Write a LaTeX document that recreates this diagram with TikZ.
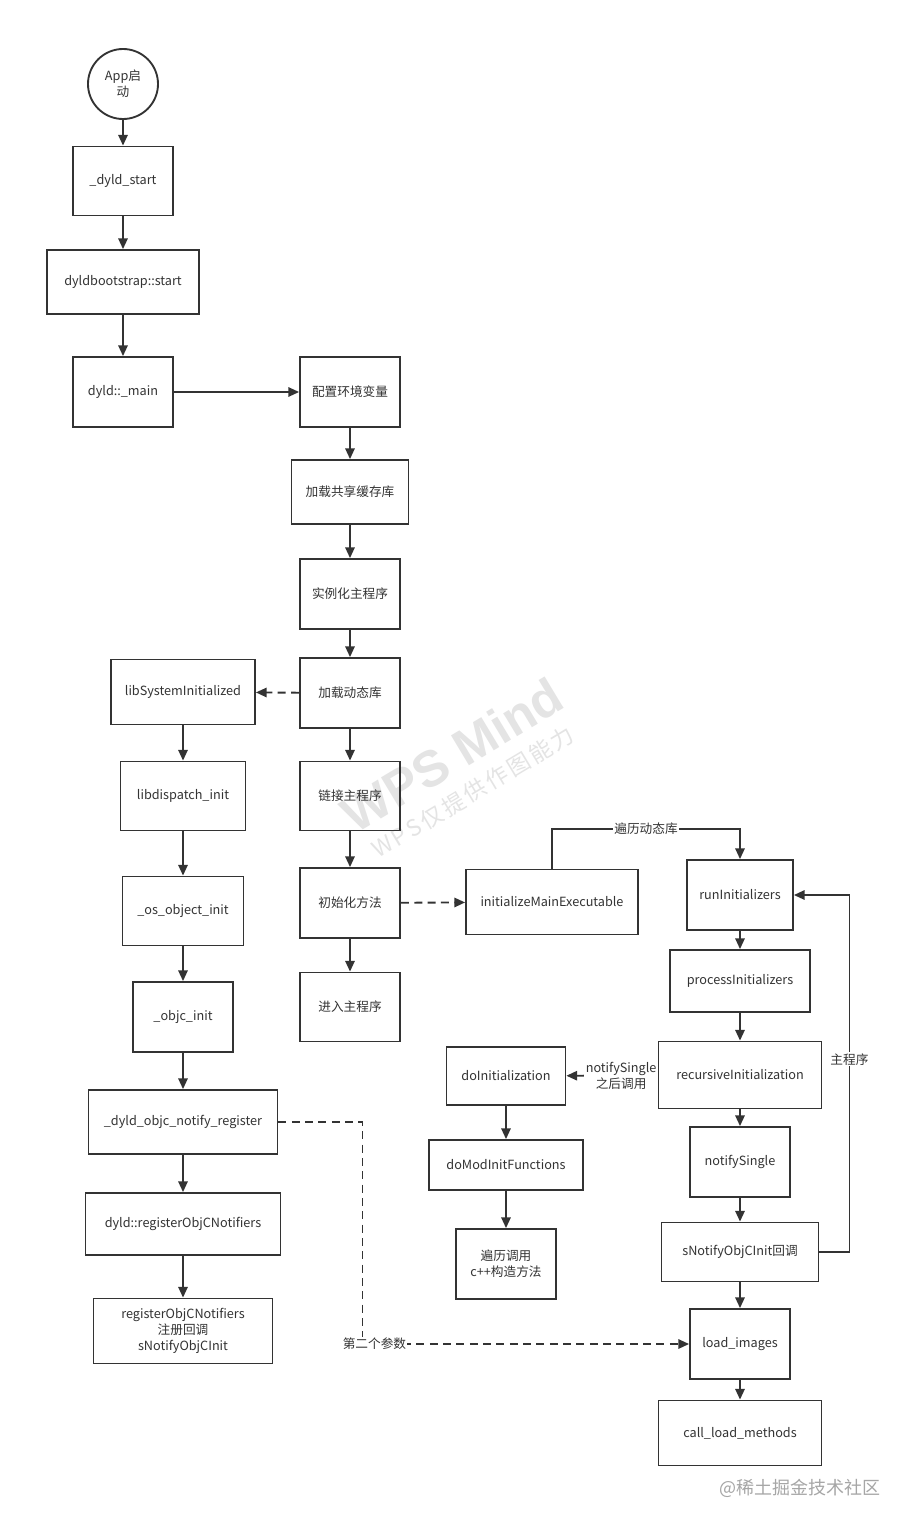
\documentclass[tikz,border=0pt]{standalone}
\usepackage{fontspec}
\setmainfont{Noto Sans CJK SC}
\newfontfamily\wmfont{Liberation Sans}
\usetikzlibrary{arrows.meta, positioning, calc}
\definecolor{ink}{HTML}{333333}
\definecolor{wmark}{HTML}{E4E4E4}
\tikzset{
    blk/.style 2 args={draw=ink, line width=1.4pt, text=ink, minimum width=#1*0.75pt,
        minimum height=#2*0.75pt, inner sep=1pt, align=center, font=\fontsize{9.5}{12}\selectfont},
    arr/.style={draw=ink, line width=1.4pt, -{Triangle[length=8pt,width=7pt]}},
    darr/.style={arr, dash pattern=on 6pt off 4pt},
    lbl/.style={fill=white, text=ink, inner sep=1pt, align=center, font=\fontsize{9.5}{12}\selectfont},
}

\begin{document}
\begin{tikzpicture}[x=0.75pt, y=-0.75pt]
    \useasboundingbox[fill=white] (0,0) rectangle (910,1528);

    % watermarks
    \node[rotate=31, text=wmark, font=\wmfont\bfseries\fontsize{38}{38}\selectfont] (wm1) at (452,755) {WPS Mind};
    \node[rotate=31, text=wmark, font=\fontsize{17}{17}\selectfont\addfontfeature{LetterSpace=12}] (wm2) at (473,792) {WPS仅提供作图能力};

    % main column
    \node[circle, draw=ink, line width=1.4pt, minimum size=52.5pt, inner sep=0pt, align=center,
        text=ink, font=\fontsize{9.5}{12}\selectfont] (app) at (123,84) {App启\\动};
    \node[blk={100}{69}] (dyldstart) at (123,181) {\_dyld\_start};
    \node[blk={152}{64}] (boot) at (123,282) {dyldbootstrap::start};
    \node[blk={100}{70}] (dmain) at (123,392) {dyld::\_main};

    % dyld::_main steps
    \node[blk={100}{70}] (env) at (350,392) {配置环境变量};
    \node[blk={117}{64}] (cache) at (350,492) {加载共享缓存库};
    \node[blk={100}{70}] (inst) at (350,594) {实例化主程序};
    \node[blk={100}{70}] (dylib) at (350,693) {加载动态库};
    \node[blk={100}{69}] (link) at (350,796) {链接主程序};
    \node[blk={100}{70}] (init) at (350,903) {初始化方法};
    \node[blk={100}{69}] (enter) at (350,1007) {进入主程序};

    % libSystem chain
    \node[blk={144}{65}] (libsys) at (183,692) {libSystemInitialized};
    \node[blk={125}{69}] (dispatch) at (183,796) {libdispatch\_init};
    \node[blk={121}{69}] (osobj) at (183,911) {\_os\_object\_init};
    \node[blk={100}{70}] (objcinit) at (183,1017) {\_objc\_init};
    \node[blk={189}{64}] (notifyreg) at (183,1122) {\_dyld\_objc\_notify\_register};
    \node[blk={195}{62}] (regnotif) at (183,1224) {dyld::registerObjCNotifiers};
    \node[blk={179}{65}] (regcb) at (183,1331) {registerObjCNotifiers\\注册回调\\sNotifyObjCInit};

    % initializers
    \node[blk={172}{65}] (initmain) at (552,902) {initializeMainExecutable};
    \node[blk={106}{70}] (runinit) at (740,895) {runInitializers};
    \node[blk={140}{62}] (procinit) at (740,981) {processInitializers};
    \node[blk={163}{67}] (recinit) at (740,1075) {recursiveInitialization};
    \node[blk={100}{70}] (notifysingle) at (740,1162) {notifySingle};
    \node[blk={157}{59}] (snotify) at (740,1252) {sNotifyObjCInit回调};
    \node[blk={100}{70}] (loadimg) at (740,1344) {load\_images};
    \node[blk={163}{65}] (callload) at (740,1433) {call\_load\_methods};

    \node[blk={119}{58}] (doinit) at (506,1076) {doInitialization};
    \node[blk={154}{50}] (domod) at (506,1165) {doModInitFunctions};
    \node[blk={100}{70}] (cxx) at (506,1264) {遍历调用\\c++构造方法};

    \node[text=gray!70, font=\fontsize{13.5}{14}\selectfont] (credit) at (800,1488) {@稀土掘金技术社区};

    % connectors
    \draw[arr] (app) -- (dyldstart);
    \draw[arr] (dyldstart) -- (boot);
    \draw[arr] (boot) -- (dmain);
    \draw[arr] (dmain) -- (env);

    \draw[arr] (env) -- (cache);
    \draw[arr] (cache) -- (inst);
    \draw[arr] (inst) -- (dylib);
    \draw[arr] (dylib) -- (link);
    \draw[arr] (link) -- (init);
    \draw[arr] (init) -- (enter);

    \draw[darr] (dylib) -- (libsys);
    \draw[arr] (libsys) -- (dispatch);
    \draw[arr] (dispatch) -- (osobj);
    \draw[arr] (osobj) -- (objcinit);
    \draw[arr] (objcinit) -- (notifyreg);
    \draw[arr] (notifyreg) -- (regnotif);
    \draw[arr] (regnotif) -- (regcb);

    \draw[darr] (init) -- (initmain);
    \draw[arr] (initmain.north) -- ++(0,-40) -| node[lbl, pos=0.25] {遍历动态库} (runinit.north);
    \draw[arr] (runinit) -- (procinit);
    \draw[arr] (procinit) -- (recinit);
    \draw[arr] (recinit) -- (notifysingle);
    \draw[arr] (notifysingle) -- (snotify);
    \draw[arr] (snotify) -- (loadimg);
    \draw[arr] (loadimg) -- (callload);
    \draw[arr] (snotify.east) -- ++(30,0) |- node[lbl, pos=0.27] {主程序} (runinit.east);

    \draw[arr] (recinit) -- node[lbl, pos=0.4] {notifySingle\\之后调用} (doinit);
    \draw[arr] (doinit) -- (domod);
    \draw[arr] (domod) -- (cxx);

    \draw[darr] (notifyreg.east) -- ++(84,0) |- node[lbl, pos=0.5, xshift=9pt] {第二个参数} (loadimg.west);
\end{tikzpicture}
\end{document}
